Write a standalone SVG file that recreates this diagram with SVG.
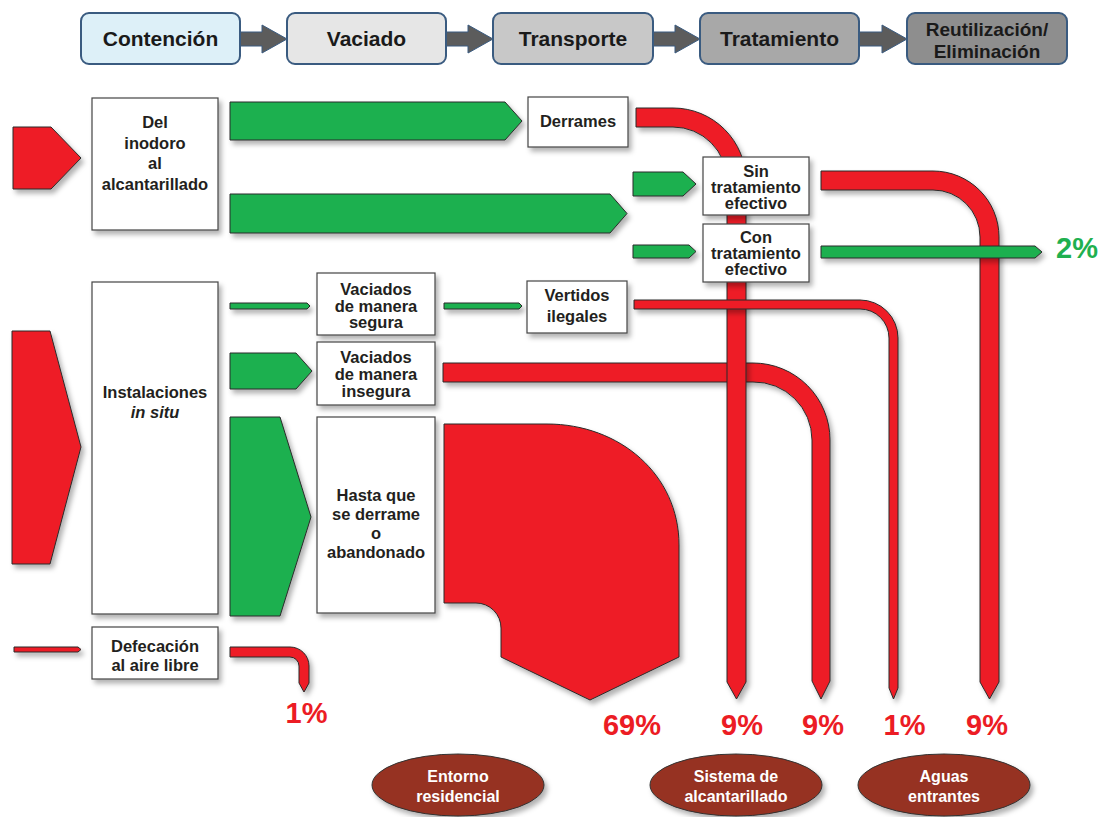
<svg xmlns="http://www.w3.org/2000/svg" width="1099" height="817" viewBox="0 0 1099 817">
<defs>
<filter id="sh" filterUnits="userSpaceOnUse" x="0" y="0" width="1099" height="817">
<feDropShadow dx="3" dy="4" stdDeviation="2.5" flood-color="#000" flood-opacity="0.3"/>
</filter>
<style>
.hb{stroke:#3A5B80;stroke-width:2}
.ha{fill:#5C5C5C;stroke:#3A5B80;stroke-width:1}
.ht{font-family:"Liberation Sans",Arial,sans-serif;font-weight:bold;font-size:21px;fill:#1a1a1a;text-anchor:middle}
.ht2{font-size:19px}
.g{fill:#1FB04F;stroke:#2a2a2a;stroke-width:1;filter:url(#sh)}
.r{fill:#EE1F25;stroke:#2a2a2a;stroke-width:1;filter:url(#sh)}
.bx{fill:#fff;stroke:#444;stroke-width:1.2;filter:url(#sh)}
.t{font-family:"Liberation Sans",Arial,sans-serif;font-weight:bold;font-size:16.5px;fill:#231F20;text-anchor:middle}
.pc{font-family:"Liberation Sans",Arial,sans-serif;font-weight:bold;font-size:29px;fill:#EC1C24;text-anchor:middle}
.el{fill:#963222;stroke:#333;stroke-width:1;filter:url(#sh)}
.et{font-family:"Liberation Sans",Arial,sans-serif;font-weight:bold;font-size:16px;fill:#fff;text-anchor:middle}
</style>
</defs>
<rect width="1099" height="817" fill="#fff"/>

<g id="connectors">
<path class="ha" d="M239,32 H262 V25 L287,39 L262,53 V46 H239 Z"/>
<path class="ha" d="M445,32 H468 V25 L493,39 L468,53 V46 H445 Z"/>
<path class="ha" d="M652,32 H675 V25 L700,39 L675,53 V46 H652 Z"/>
<path class="ha" d="M858,32 H882 V25 L907,39 L882,53 V46 H858 Z"/>

<path class="r" d="M13,127 H51 L81,158 L51,189 H13 Z"/>
<path class="r" d="M12,331 H50 L81,447 L50,564 H12 Z"/>
<path class="r" d="M14,647 H78 L81,649.5 L78,652 H14 Z"/>

<path class="g" d="M230,102 H505 L522,121 L505,140 H230 Z"/>
<path class="g" d="M230,194 H610 L627,213.5 L610,233 H230 Z"/>
<path class="g" d="M633,172 H683 L696,184 L683,196 H633 Z"/>
<path class="g" d="M633,245 H689 L696,251.5 L689,258 H633 Z"/>
<path class="g" d="M230,303 H307 L310,306 L307,309 H230 Z"/>
<path class="g" d="M444,303 H519 L522,306 L519,309 H444 Z"/>
<path class="g" d="M230,353 H296 L312,371 L296,389 H230 Z"/>
<path class="g" d="M230,417 H280 L311,517 L280,616 H230 Z"/>

<path class="r" d="M443,363 H753 A77,77 0 0 1 830,440 V681 L821,699 L812,681 V440 A58,58 0 0 0 753,382 H443 Z"/>
<path class="r" d="M636,108 H673 A73,73 0 0 1 746,181 V682 L736.5,699 L727,682 V181 A54,54 0 0 0 673,127 H636 Z"/>
<path class="r" d="M634,300 H860 A38,38 0 0 1 898,338 V688 L893.5,699 L889,688 V338 A29,29 0 0 0 860,309 H634 Z"/>
<path class="r" d="M821,171 H933 A66,66 0 0 1 999,237 V682 L989.5,699 L980,682 V237 A47,47 0 0 0 933,190 H821 Z"/>
<path class="g" d="M821,246 H1035 L1042,252 L1035,258 H821 Z"/>
<path class="r" d="M230,647 H290 A19,19 0 0 1 309,666 V683 L304,692 L299,683 V666 A9,9 0 0 0 290,657 H230 Z"/>
<path class="r" d="M444,424 H547 C620,424 679,475 679,545 V657 L590,700 L501,657 V628 A25,25 0 0 0 476,603 H444 Z"/>
</g>

<g id="h-contencion"><rect class="hb" x="81" y="13" width="159" height="51" rx="8" fill="#DDF0F8"/><text class="ht" x="160.5" y="46">Contención</text></g>
<g id="h-vaciado"><rect class="hb" x="287" y="13" width="159" height="51" rx="8" fill="#E6E6E6"/><text class="ht" x="366.5" y="46">Vaciado</text></g>
<g id="h-transporte"><rect class="hb" x="493" y="13" width="160" height="51" rx="8" fill="#C8C8C8"/><text class="ht" x="573" y="46">Transporte</text></g>
<g id="h-tratamiento"><rect class="hb" x="700" y="13" width="159" height="51" rx="8" fill="#A8A8A8"/><text class="ht" x="779.5" y="46">Tratamiento</text></g>
<g id="h-reutilizacion"><rect class="hb" x="907" y="13" width="160" height="51" rx="8" fill="#8E8E8E"/><text class="ht ht2" x="987" y="36">Reutilización/</text><text class="ht ht2" x="987" y="58">Eliminación</text></g>

<g id="n-inodoro"><rect class="bx" x="92" y="98" width="126" height="132"/>
<text class="t" x="155" y="128">Del</text><text class="t" x="155" y="149">inodoro</text><text class="t" x="155" y="169">al</text><text class="t" x="155" y="190">alcantarillado</text></g>
<g id="n-insitu"><rect class="bx" x="92" y="282" width="126" height="332"/>
<text class="t" x="155" y="398">Instalaciones</text><text class="t" x="155" y="418" font-style="italic">in situ</text></g>
<g id="n-defecacion"><rect class="bx" x="92" y="627" width="126" height="52"/>
<text class="t" x="155" y="652">Defecación</text><text class="t" x="155" y="671">al aire libre</text></g>
<g id="n-derrames"><rect class="bx" x="528" y="97" width="100" height="50"/>
<text class="t" x="578" y="127">Derrames</text></g>
<g id="n-sin"><rect class="bx" x="703" y="157" width="106" height="58"/>
<text class="t" x="756" y="177">Sin</text><text class="t" x="756" y="193">tratamiento</text><text class="t" x="756" y="209">efectivo</text></g>
<g id="n-con"><rect class="bx" x="703" y="224" width="106" height="58"/>
<text class="t" x="756" y="243">Con</text><text class="t" x="756" y="259">tratamiento</text><text class="t" x="756" y="275">efectivo</text></g>
<g id="n-segura"><rect class="bx" x="317" y="273" width="118" height="62"/>
<text class="t" x="376" y="295">Vaciados</text><text class="t" x="376" y="312">de manera</text><text class="t" x="376" y="328">segura</text></g>
<g id="n-insegura"><rect class="bx" x="317" y="342" width="118" height="63"/>
<text class="t" x="376" y="363">Vaciados</text><text class="t" x="376" y="380">de manera</text><text class="t" x="376" y="397">insegura</text></g>
<g id="n-hasta"><rect class="bx" x="317" y="417" width="118" height="196"/>
<text class="t" x="376" y="501">Hasta que</text><text class="t" x="376" y="520">se derrame</text><text class="t" x="376" y="539">o</text><text class="t" x="376" y="558">abandonado</text></g>
<g id="n-vertidos"><rect class="bx" x="527" y="281" width="100" height="52"/>
<text class="t" x="577" y="301">Vertidos</text><text class="t" x="577" y="322">ilegales</text></g>

<g id="labels">
<text class="pc" x="306.5" y="723">1%</text>
<text class="pc" x="632" y="735">69%</text>
<text class="pc" x="742" y="735">9%</text>
<text class="pc" x="823" y="735">9%</text>
<text class="pc" x="904.5" y="735">1%</text>
<text class="pc" x="987" y="735">9%</text>
<text class="pc" x="1056" y="258" style="text-anchor:start;fill:#1FB04F">2%</text>
</g>

<g id="d-entorno"><ellipse class="el" cx="458" cy="785" rx="86" ry="31"/><text class="et" x="458" y="782">Entorno</text><text class="et" x="458" y="802">residencial</text></g>
<g id="d-sistema"><ellipse class="el" cx="736" cy="785" rx="86" ry="31"/><text class="et" x="736" y="782">Sistema de</text><text class="et" x="736" y="802">alcantarillado</text></g>
<g id="d-aguas"><ellipse class="el" cx="944" cy="785" rx="86" ry="31"/><text class="et" x="944" y="782">Aguas</text><text class="et" x="944" y="802">entrantes</text></g>
</svg>
